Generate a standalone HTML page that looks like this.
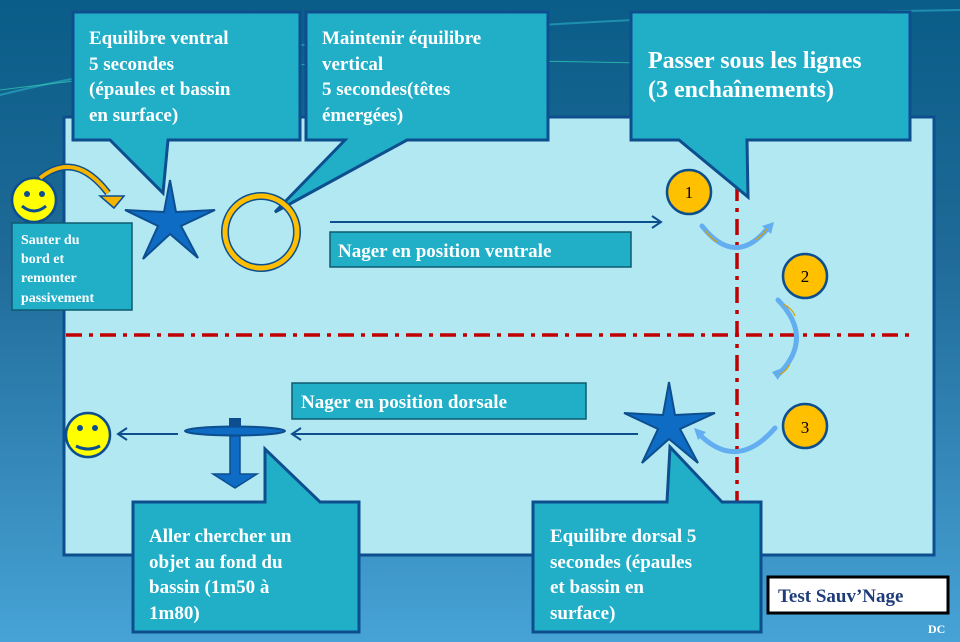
<!DOCTYPE html>
<html><head><meta charset="utf-8"><style>
html,body{margin:0;padding:0;width:960px;height:642px;overflow:hidden}
svg{display:block}
text{font-family:"Liberation Serif",serif;font-weight:bold;fill:#fff}
</style></head><body>
<svg width="960" height="642" viewBox="0 0 960 642" xmlns="http://www.w3.org/2000/svg">
<defs>
<linearGradient id="bg" x1="0" y1="0" x2="0" y2="1">
<stop offset="0" stop-color="#0a5d88"/><stop offset="0.4" stop-color="#1f6a98"/><stop offset="1" stop-color="#47a3d6"/>
</linearGradient>
</defs>
<rect width="960" height="642" fill="url(#bg)"/>
<path d="M0 95 Q300 20 960 10" stroke="#2bb0c8" stroke-width="2" fill="none" opacity="0.6"/>
<path d="M0 90 Q300 50 700 65" stroke="#35d0b0" stroke-width="1" fill="none" opacity="0.7"/>
<rect x="64" y="117" width="870" height="438" fill="#b2e8f1" stroke="#0d4e8f" stroke-width="3"/>
<line x1="66" y1="335" x2="915" y2="335" stroke="#c00000" stroke-width="3.5" stroke-dasharray="16,7,4,7"/>
<line x1="737" y1="185" x2="737" y2="502" stroke="#c00000" stroke-width="3.5" stroke-dasharray="16,7,4,7"/>
<g fill="#21afc8" stroke="#0d4e8f" stroke-width="3" stroke-linejoin="miter">
<path d="M73 12H300V140H168L163 193L110 140H73Z"/>
<path d="M306 12H548V140H407L275 212L345 140H306Z"/>
<path d="M631 12H910V140H747L748 197L679 140H631Z"/>
<path d="M133 502H265V449L320 502H359V632H133Z"/>
<path d="M533 502H667L670 447L722 502H761V632H533Z"/>
</g>
<text font-size="19"><tspan x="89" y="44">Equilibre ventral</tspan><tspan x="89" y="70">5 secondes</tspan><tspan x="89" y="95">(épaules et bassin</tspan><tspan x="89" y="121">en surface)</tspan></text>
<text font-size="19"><tspan x="322" y="44">Maintenir équilibre</tspan><tspan x="322" y="70">vertical</tspan><tspan x="322" y="95">5 secondes(têtes</tspan><tspan x="322" y="121">émergées)</tspan></text>
<text font-size="24"><tspan x="648" y="68">Passer sous les lignes</tspan><tspan x="648" y="97">(3 enchaînements)</tspan></text>
<text font-size="19"><tspan x="149" y="542">Aller chercher  un</tspan><tspan x="149" y="568">objet au fond du</tspan><tspan x="149" y="593">bassin (1m50 à</tspan><tspan x="149" y="619">1m80)</tspan></text>
<text font-size="19"><tspan x="550" y="542">Equilibre dorsal 5</tspan><tspan x="550" y="568">secondes (épaules</tspan><tspan x="550" y="593">et bassin en</tspan><tspan x="550" y="619">surface)</tspan></text>
<rect x="330" y="232" width="301" height="35" fill="#21afc8" stroke="#0d5a70" stroke-width="1.5"/>
<text x="338" y="257" font-size="19">Nager  en position ventrale</text>
<rect x="292" y="383" width="294" height="36" fill="#21afc8" stroke="#0d5a70" stroke-width="1.5"/>
<text x="301" y="408" font-size="19">Nager  en position dorsale</text>
<rect x="12" y="223" width="120" height="87" fill="#21afc8" stroke="#0d5a70" stroke-width="1.5"/>
<text font-size="14"><tspan x="21" y="244">Sauter du</tspan><tspan x="21" y="263">bord et</tspan><tspan x="21" y="282">remonter</tspan><tspan x="21" y="302">passivement</tspan></text>
<rect x="768" y="577" width="180" height="36" fill="#fff" stroke="#000" stroke-width="3"/>
<text x="778" y="602" font-size="19" style="fill:#1f3c7a">Test Sauv’Nage</text>
<text x="928" y="633" font-size="12">DC</text>
<g stroke="#0d4e8f" stroke-width="2" fill="none">
<line x1="330" y1="222" x2="660" y2="222"/><path d="M652 216L661 222L652 228"/>
<line x1="638" y1="434" x2="293" y2="434"/><path d="M301 428L292 434L301 440"/>
<line x1="178" y1="434" x2="119" y2="434"/><path d="M127 428L118 434L127 440"/>
</g>
<g fill="#0e6cc4" stroke="#0d4e8f" stroke-width="2">
<path d="M170 180L176 212L215 210L181 226L198 258L170 234L143 259L158 226L125 210L164 212Z"/>
<path d="M669 382L675 415L715 413L680 429L698 463L669 439L642 463L658 429L624 413L663 415Z"/>
</g>
<circle cx="261" cy="232" r="36" fill="none" stroke="#0d4e8f" stroke-width="8"/>
<circle cx="261" cy="232" r="36" fill="none" stroke="#ffbf00" stroke-width="5"/>
<g stroke="#0d4e8f" stroke-width="2.5">
<circle cx="34" cy="200" r="22" fill="#ffff00"/>
<circle cx="88" cy="435" r="22" fill="#ffff00"/>
</g>
<g fill="#0d4e8f"><circle cx="27" cy="194" r="3"/><circle cx="42" cy="194" r="3"/><circle cx="80" cy="428" r="3"/><circle cx="95" cy="428" r="3"/></g>
<g stroke="#0d4e8f" stroke-width="3" fill="none"><path d="M22 206Q34 216 46 206"/><path d="M76 446Q88 452 100 446"/></g>
<path d="M40 178Q75 150 108 193" stroke="#0d4e8f" stroke-width="7" fill="none"/>
<path d="M40 178Q75 150 108 193" stroke="#f5b400" stroke-width="4" fill="none"/>
<path d="M100 196L124 196L114 208Z" fill="#f5b400" stroke="#0d4e8f" stroke-width="1.5"/>
<rect x="229" y="418" width="12" height="8" fill="#0d4e8f"/>
<ellipse cx="235" cy="431" rx="50" ry="4.5" fill="#0e6cc4" stroke="#0d4e8f" stroke-width="2"/>
<path d="M230 436H240V474H257L235 488L213 474H230Z" fill="#0e6cc4" stroke="#0d4e8f" stroke-width="1.5"/>
<g fill="#ffc000" stroke="#0d4e8f" stroke-width="2.5">
<circle cx="689" cy="192" r="22"/><circle cx="805" cy="276" r="22"/><circle cx="805" cy="426" r="22"/>
</g>
<g font-family="Liberation Serif,serif" font-size="17" fill="#000" text-anchor="middle">
<text x="689" y="198" style="fill:#000;font-weight:normal">1</text>
<text x="805" y="282" style="fill:#000;font-weight:normal">2</text>
<text x="805" y="433" style="fill:#000;font-weight:normal">3</text>
</g>
<g stroke="#63aef0" stroke-width="5" fill="none" stroke-linecap="round">
<path d="M702 226Q735 268 768 228"/>
<path d="M778 300Q815 338 778 375"/>
<path d="M775 428Q737 472 699 434"/>
</g>
<g fill="#63aef0">
<path d="M762 226L774 222L771 234Z"/><path d="M772 372L782 368L778 380Z"/><path d="M694 428L706 432L698 440Z"/>
</g>
<g stroke="#d6a000" stroke-width="1.2" fill="none">
<path d="M705 230Q712 240 718 242"/><path d="M755 240Q762 236 767 229"/><path d="M783 304Q792 308 795 316"/><path d="M790 364Q786 372 780 374"/>
</g>
</svg>
</body></html>
